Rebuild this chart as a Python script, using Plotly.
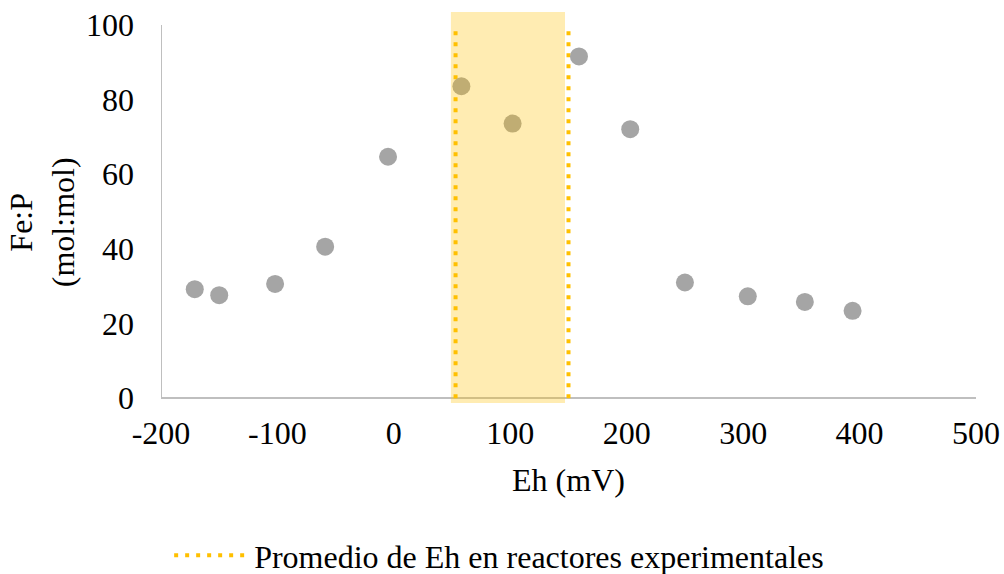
import plotly.graph_objects as go

# Measured Eh (mV) and Fe:P molar ratio
eh_mv = [-171, -150, -102, -59, -5, 58, 102, 159, 203, 250, 304, 353, 394]
fe_p = [29.2, 27.6, 30.6, 40.6, 64.7, 83.6, 73.6, 91.6, 72.1, 31.0, 27.3, 25.8, 23.4]

# Range of average Eh in the experimental reactors
eh_lines = [53, 150]
band_range = [49, 147]
y_top = 100
band_top = 103.5

x_ticks = [-200, -100, 0, 100, 200, 300, 400, 500]
y_ticks = [0, 20, 40, 60, 80, 100]

FONT = "Liberation Serif, Times New Roman, serif"
GOLD = "#FFC000"
AXIS = "#BFBFBF"
FS = 32

fig = go.Figure()

# Dotted vertical lines (legend entry)
lx, ly = [], []
for v in eh_lines:
    lx += [v, v, None]
    ly += [0, y_top, None]
fig.add_trace(go.Scatter(
    x=lx, y=ly, mode="lines",
    line=dict(color=GOLD, width=4, dash="4px,7px"),
    name="Promedio de Eh en reactores experimentales",
    showlegend=True,
))

# Data points
fig.add_trace(go.Scatter(
    x=eh_mv, y=fe_p, mode="markers",
    marker=dict(size=18, color="#A5A5A5", line=dict(width=0)),
    showlegend=False,
))

# Shaded band over the points
fig.add_shape(type="rect", xref="x", yref="y",
              x0=band_range[0], x1=band_range[1], y0=-1.3, y1=band_top,
              fillcolor="rgba(255,192,0,0.30)", line=dict(width=0), layer="above")

# Left axis line from 0 to 100
fig.add_shape(type="line", xref="x", yref="y",
              x0=x_ticks[0], x1=x_ticks[0], y0=0, y1=y_top,
              line=dict(color=AXIS, width=2), layer="below")

fig.add_annotation(
    text="Fe:P<br>(mol:mol)", textangle=-90,
    xref="paper", yref="paper", x=-0.145, y=0.462,
    xanchor="center", yanchor="middle", showarrow=False,
    font=dict(family=FONT, size=FS, color="#000"),
)

fig.update_layout(
    width=1004, height=574,
    margin=dict(l=161, r=28, t=12, b=171, autoexpand=False),
    paper_bgcolor="white", plot_bgcolor="white",
    font=dict(family=FONT, size=FS, color="#000"),
    xaxis=dict(
        range=[-200, 500], tickvals=x_ticks, ticktext=[str(v) for v in x_ticks],
        showline=False, showgrid=False, zeroline=False, ticks="",
        ticklabelstandoff=8, automargin=False,
        title=dict(text="Eh (mV)", font=dict(size=FS), standoff=18),
    ),
    yaxis=dict(
        range=[-1.3, band_top], tickvals=y_ticks, ticktext=[str(v) for v in y_ticks],
        showline=False, showgrid=False, zeroline=True, zerolinecolor=AXIS, zerolinewidth=2,
        ticks="", ticklabelstandoff=26, automargin=False,
    ),
    legend=dict(
        orientation="h", x=0.01, xanchor="left", y=-0.39, yanchor="middle",
        itemwidth=75,
        font=dict(family=FONT, size=FS), bgcolor="rgba(0,0,0,0)",
    ),
)

fig.write_html("out.html")
